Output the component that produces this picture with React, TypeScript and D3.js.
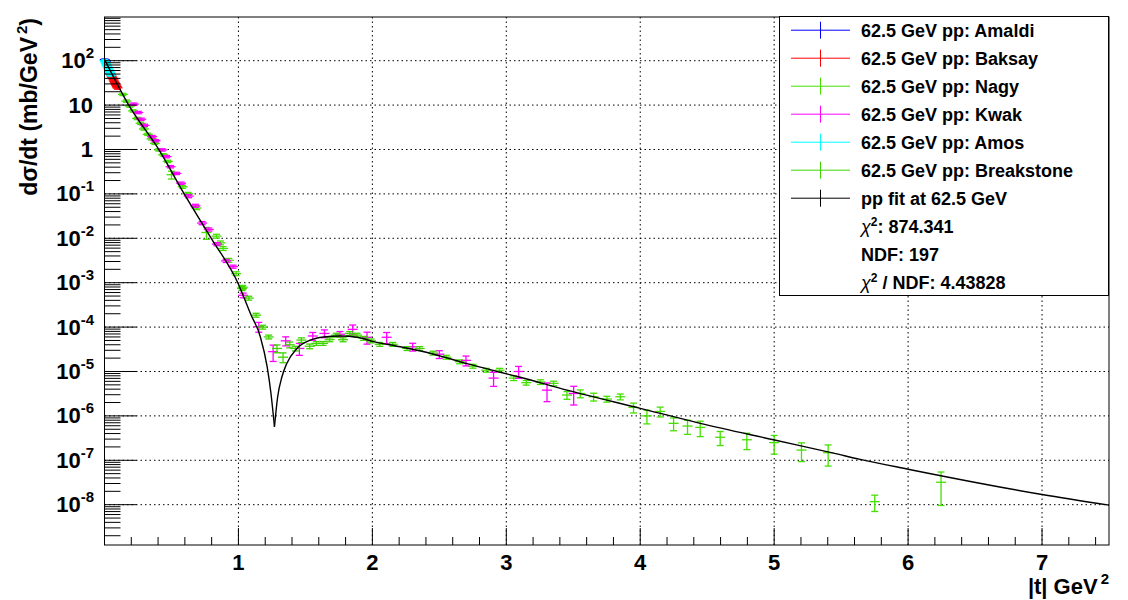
import React from 'react';
import * as d3 from 'd3';

// |t| (GeV^2), dsigma/dt (mb/GeV^2), relative error
type Pt = [number, number, number];

const amaldi: Pt[] = [
  [0.002, 106, 0.03], [0.006, 101, 0.03], [0.010, 97, 0.03],
];

const amos: Pt[] = [
  [0.002, 100, 0.06], [0.006, 94, 0.06], [0.010, 88, 0.06], [0.014, 83, 0.06],
  [0.018, 78, 0.06], [0.022, 73, 0.06], [0.026, 69, 0.06], [0.030, 65, 0.06],
  [0.034, 61, 0.06], [0.038, 57, 0.06], [0.042, 54, 0.06], [0.046, 50, 0.06],
  [0.050, 47, 0.06],
];

const baksay: Pt[] = [
  [0.042, 52, 0.07], [0.047, 49, 0.07], [0.052, 45.5, 0.07], [0.057, 42.5, 0.07],
  [0.062, 40, 0.07], [0.067, 37, 0.07], [0.072, 34.5, 0.07], [0.077, 32, 0.07],
  [0.082, 30, 0.07], [0.087, 28, 0.07], [0.092, 26, 0.07], [0.097, 24.5, 0.07],
];

const nagy: Pt[] = [
  [0.137, 17.4, 0.06], [0.164, 12.3, 0.06], [0.189, 9.5, 0.06], [0.214, 7.4, 0.06],
  [0.244, 5.0, 0.06], [0.269, 3.9, 0.06], [0.294, 2.9, 0.06], [0.323, 2.2, 0.06],
  [0.351, 1.74, 0.06], [0.376, 1.38, 0.06], [0.405, 0.98, 0.06], [0.438, 0.76, 0.06],
  [0.472, 0.54, 0.06], [0.5, 0.27, 0.2], [0.584, 0.145, 0.08], [0.624, 0.1, 0.08],
  [0.687, 0.048, 0.08], [0.761, 0.0135, 0.3], [0.836, 0.0112, 0.1], [0.866, 0.0079, 0.1],
  [0.886, 0.0059, 0.1], [0.928, 0.0032, 0.1], [0.983, 0.0016, 0.1], [1.032, 0.00079, 0.1],
  [2.552, 2.1e-5, 0.1], [2.652, 1.66e-5, 0.1], [2.751, 1.32e-5, 0.1], [2.851, 1.07e-5, 0.1],
  [2.95, 1.07e-5, 0.1], [3.055, 7.1e-6, 0.12], [3.149, 5.6e-6, 0.12], [3.254, 5.8e-6, 0.12],
  [3.353, 5.4e-6, 0.12], [3.453, 2.95e-6, 0.2], [3.552, 3.2e-6, 0.2], [3.652, 2.7e-6, 0.2],
  [3.751, 2.4e-6, 0.15], [3.851, 2.7e-6, 0.15], [3.95, 1.55e-6, 0.25], [4.05, 1.0e-6, 0.34],
  [4.149, 1.26e-6, 0.25], [4.249, 6.8e-7, 0.32], [4.353, 5.9e-7, 0.35], [4.448, 5.5e-7, 0.38],
  [4.597, 3.3e-7, 0.35], [4.796, 2.9e-7, 0.4], [5.0, 2.5e-7, 0.45], [5.204, 1.7e-7, 0.45],
  [5.403, 1.48e-7, 0.5], [5.751, 1.17e-8, 0.4], [6.246, 3.2e-8, 0.7],
];

const kwak: Pt[] = [
  [0.219, 10.5, 0.06], [0.252, 6.8, 0.06], [0.274, 4.8, 0.06], [0.299, 3.5, 0.06],
  [0.356, 1.95, 0.06], [0.381, 1.58, 0.06], [0.431, 0.98, 0.06], [0.463, 0.69, 0.06],
  [0.493, 0.41, 0.06], [0.537, 0.29, 0.06], [0.572, 0.174, 0.06], [0.629, 0.089, 0.08],
  [0.679, 0.054, 0.08], [0.729, 0.022, 0.08], [0.779, 0.0158, 0.08], [0.84, 0.0074, 0.08],
  [0.908, 0.0031, 0.08], [0.96, 0.0023, 0.08], [1.035, 5.2e-4, 0.12], [1.152, 1.02e-4, 0.25],
  [1.259, 2.8e-5, 0.4], [1.353, 4.9e-5, 0.23], [1.455, 3.3e-5, 0.3], [1.555, 6.3e-5, 0.2],
  [1.642, 7.2e-5, 0.2], [1.758, 6.9e-5, 0.15], [1.853, 8.9e-5, 0.25], [1.96, 5.9e-5, 0.3],
  [2.107, 5.9e-5, 0.28], [2.301, 3.6e-5, 0.2], [2.5, 2.45e-5, 0.2], [2.699, 1.78e-5, 0.25],
  [2.905, 7.1e-6, 0.35], [3.092, 1.0e-5, 0.3], [3.304, 3.8e-6, 0.45], [3.503, 3.2e-6, 0.45],
];

const breakstone: Pt[] = [
  [1.027, 7.4e-4, 0.1], [1.077, 4.5e-4, 0.1], [1.132, 1.86e-4, 0.1], [1.181, 1.0e-4, 0.1],
  [1.226, 6.0e-5, 0.1], [1.288, 3.3e-5, 0.2], [1.333, 2.1e-5, 0.25], [1.383, 4.0e-5, 0.15],
  [1.425, 3.3e-5, 0.12], [1.47, 5.1e-5, 0.12], [1.532, 3.7e-5, 0.12], [1.582, 4.3e-5, 0.1],
  [1.632, 4.3e-5, 0.1], [1.681, 5.2e-5, 0.1], [1.731, 6.6e-5, 0.1], [1.781, 5.2e-5, 0.1],
  [1.831, 7.2e-5, 0.1], [1.885, 6.6e-5, 0.1], [1.935, 5.6e-5, 0.1], [1.99, 4.9e-5, 0.1],
  [2.055, 4.1e-5, 0.1], [2.152, 4.1e-5, 0.1], [2.259, 3.3e-5, 0.1], [2.353, 3.3e-5, 0.1],
  [2.453, 2.6e-5, 0.1],
];

// fit curve, split at the diffraction dip
const fitLeft: [number, number][] = [
  [0, 107], [0.005, 100], [0.181, 10], [0.405, 1], [0.595, 0.1], [0.797, 0.01],
  [0.995, 1e-3], [1.09, 2.0e-4], [1.164, 6.0e-5], [1.214, 1.3e-5], [1.243, 3.2e-6],
  [1.269, 5.7e-7],
];
const fitRight: [number, number][] = [
  [1.269, 5.7e-7], [1.293, 2.7e-6], [1.325, 7.6e-6], [1.36, 1.5e-5], [1.437, 3.3e-5],
  [1.537, 5.1e-5], [1.637, 6.0e-5], [1.761, 6.3e-5], [1.886, 5.9e-5], [2.01, 4.7e-5],
  [2.209, 3.6e-5], [2.458, 2.45e-5], [2.706, 1.5e-5], [2.955, 9.6e-6], [3.104, 7.4e-6],
  [3.453, 3.8e-6], [4.0, 1.48e-6], [4.448, 6.8e-7], [4.995, 2.9e-7], [5.443, 1.45e-7],
  [5.642, 1.05e-7], [6.0, 6.3e-8], [7.0, 1.7e-8], [7.5, 9.8e-9],
];

const seriesNames = [
  '62.5 GeV pp: Amaldi', '62.5 GeV pp: Baksay', '62.5 GeV pp: Nagy',
  '62.5 GeV pp: Kwak', '62.5 GeV pp: Amos', '62.5 GeV pp: Breakstone', 'pp fit at 62.5 GeV',
];
const seriesColors = ['#0000ff', '#ff0000', '#44e000', '#ff00ff', '#00ffff', '#3fd400', '#000000'];
const seriesData = [amaldi, baksay, nagy, kwak, amos, breakstone];

const xTicks = [1, 2, 3, 4, 5, 6, 7];
const yDecades = [-8, -7, -6, -5, -4, -3, -2, -1, 0, 1, 2];

const W = 1128, H = 600;
const L = 104.5, R = 1109, T = 17, B = 545;
const FONT = '"Liberation Sans", Arial, Helvetica, sans-serif';

const App: React.FC = () => {
  const x = d3.scaleLinear().domain([0, 7.5]).range([L, R]);
  const y = d3.scaleLog().domain([1.236e-9, 964]).range([B, T]);

  const xMinor = d3.range(0, 7.5001, 0.2).map((v) => +v.toFixed(2));
  const yMinor: number[] = [];
  for (let e = -9; e <= 2; e++) {
    for (let k = 2; k <= 9; k++) {
      const v = k * Math.pow(10, e);
      if (v > 1.236e-9 && v < 964) yMinor.push(v);
    }
  }

  const line = d3.line<[number, number]>()
    .x((d) => x(d[0]))
    .y((d) => y(d[1]))
    .curve(d3.curveMonotoneX);

  const drawPoints = (pts: Pt[], color: string, key: string) =>
    pts.map((p, i) => {
      const px = x(p[0]);
      const py = y(p[1]);
      const hi = y(p[1] * (1 + p[2]));
      const lo = y(Math.max(p[1] * (1 - p[2]), 1e-12));
      return (
        <g key={key + i} stroke={color} strokeWidth={1.3}>
          <line x1={px} x2={px} y1={hi} y2={lo} />
          <line x1={px - 5} x2={px + 5} y1={py} y2={py} />
          <line x1={px - 3.5} x2={px + 3.5} y1={hi} y2={hi} />
          <line x1={px - 3.5} x2={px + 3.5} y1={lo} y2={lo} />
        </g>
      );
    });

  const legendRows = [
    ...seriesNames.map((n, i) => ({ label: n, color: seriesColors[i] as string | null })),
    { label: 'chi', color: null },
    { label: 'NDF: 197', color: null },
    { label: 'chindf', color: null },
  ];

  return (
    <svg width={W} height={H} style={{ position: 'absolute', left: 0, top: 0, background: '#fff' }}
      fontFamily={FONT} fontWeight="bold">
      <rect x={0} y={0} width={W} height={H} fill="#fff" />

      {/* grid */}
      <g stroke="#000" strokeWidth={1} strokeDasharray="1.5,3">
        {xTicks.map((t) => (
          <line key={'gx' + t} x1={x(t)} x2={x(t)} y1={T} y2={B} />
        ))}
        {yDecades.map((e) => (
          <line key={'gy' + e} x1={L} x2={R} y1={y(Math.pow(10, e))} y2={y(Math.pow(10, e))} />
        ))}
      </g>

      {/* data */}
      {seriesData.map((s, i) => drawPoints(s, seriesColors[i], 's' + i))}

      {/* fit */}
      <path d={line(fitLeft) || ''} fill="none" stroke="#000" strokeWidth={1.4} />
      <path d={line(fitRight) || ''} fill="none" stroke="#000" strokeWidth={1.4} />

      {/* frame */}
      <rect x={L} y={T} width={R - L} height={B - T} fill="none" stroke="#000" strokeWidth={1} />

      {/* ticks */}
      <g stroke="#000" strokeWidth={1}>
        {xMinor.map((t) => {
          const major = Math.abs(t - Math.round(t)) < 1e-6;
          return <line key={'xt' + t} x1={x(t)} x2={x(t)} y1={B} y2={B - (major ? 17 : 8)} />;
        })}
        {yDecades.map((e) => (
          <line key={'yt' + e} x1={L} x2={L + 32} y1={y(Math.pow(10, e))} y2={y(Math.pow(10, e))} />
        ))}
        {yMinor.map((v, i) => (
          <line key={'ym' + i} x1={L} x2={L + 16} y1={y(v)} y2={y(v)} />
        ))}
      </g>

      {/* x labels */}
      {xTicks.map((t) => (
        <text key={'xl' + t} x={x(t)} y={570} fontSize={22} textAnchor="middle">{t}</text>
      ))}

      {/* y labels */}
      {yDecades.map((e) => {
        const py = y(Math.pow(10, e)) + 7.5;
        if (e === 0) return <text key={'yl' + e} x={93} y={py} fontSize={22} textAnchor="end">1</text>;
        if (e === 1) return <text key={'yl' + e} x={93} y={py} fontSize={22} textAnchor="end">10</text>;
        return (
          <text key={'yl' + e} x={94} y={py} fontSize={22} textAnchor="end">
            10<tspan fontSize={15} dy={-10}>{e}</tspan>
          </text>
        );
      })}

      {/* axis titles */}
      <text transform="translate(37,18) rotate(-90)" fontSize={23} textAnchor="end">
        dσ/dt (mb/GeV<tspan fontSize={15} dx={3} dy={-10}>2</tspan><tspan dy={10}>)</tspan>
      </text>
      <text x={1109} y={594} fontSize={22} textAnchor="end">
        |t| GeV<tspan fontSize={15} dx={3} dy={-10}>2</tspan>
      </text>

      {/* legend */}
      <rect x={779.5} y={16.5} width={329} height={279} fill="#fff" stroke="#000" strokeWidth={1} />
      {legendRows.map((r, i) => {
        const base = 36.7 + 28 * i;
        return (
          <g key={'lg' + i}>
            {r.color && (
              <g stroke={r.color} strokeWidth={1}>
                <line x1={791} x2={850} y1={base - 6.5} y2={base - 6.5} />
                <line x1={820.5} x2={820.5} y1={base - 15} y2={base + 2} />
              </g>
            )}
            {r.label === 'chi' ? (
              <text x={861} y={base} fontSize={18}>
                <tspan fontStyle="italic" fontWeight="normal">χ</tspan>
                <tspan fontSize={12} dy={-7}>2</tspan>
                <tspan dy={7}>: 874.341</tspan>
              </text>
            ) : r.label === 'chindf' ? (
              <text x={861} y={base} fontSize={18}>
                <tspan fontStyle="italic" fontWeight="normal">χ</tspan>
                <tspan fontSize={12} dy={-7}>2</tspan>
                <tspan dy={7}> / NDF: 4.43828</tspan>
              </text>
            ) : (
              <text x={861} y={base} fontSize={18}>{r.label}</text>
            )}
          </g>
        );
      })}
    </svg>
  );
};

export default App;
